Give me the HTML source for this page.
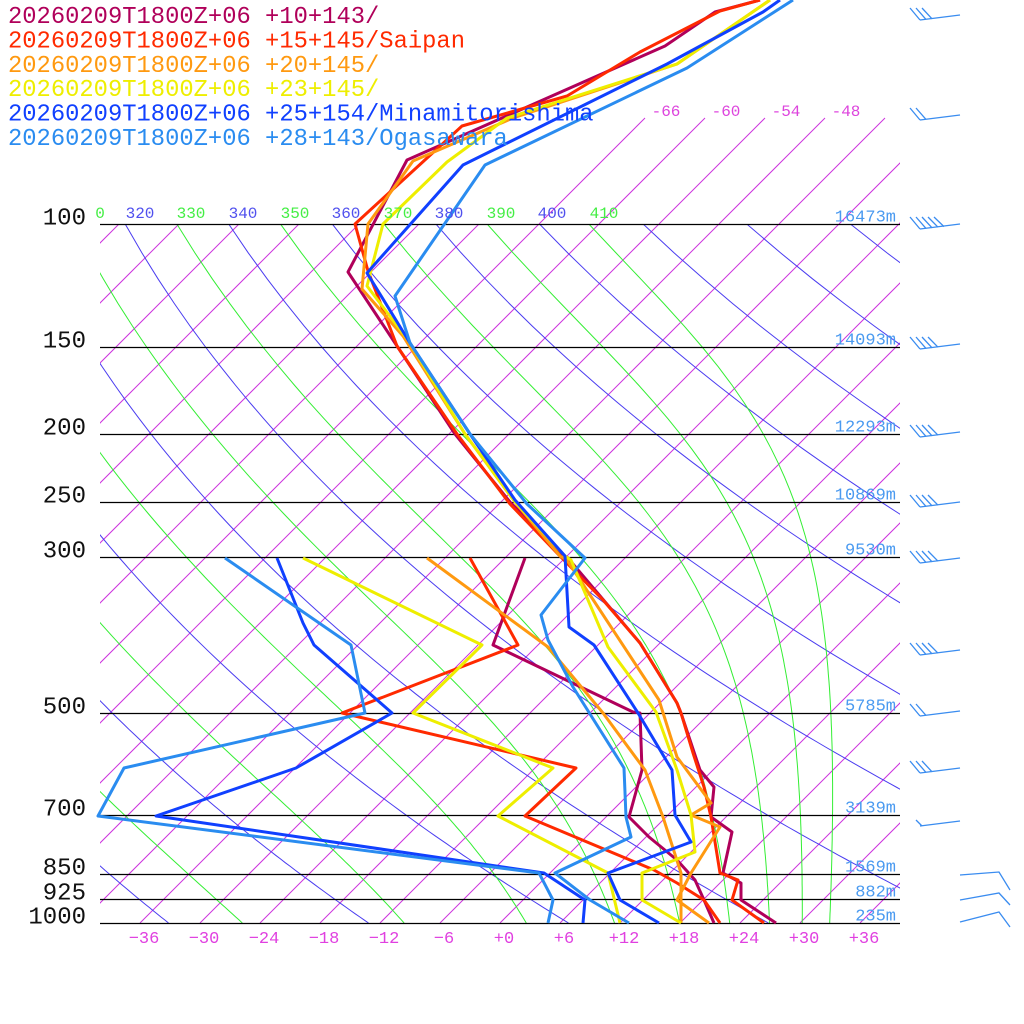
<!DOCTYPE html>
<html><head><meta charset="utf-8"><style>
html,body{margin:0;padding:0;background:#fff;}
svg{display:block;}
text{font-family:"Liberation Mono",monospace;}
</style></head><body>
<svg id="s" width="1024" height="1024" viewBox="0 0 1024 1024" xmlns="http://www.w3.org/2000/svg">
<defs>
<clipPath id="c1"><rect x="100" y="224" width="800" height="699"/></clipPath>
<clipPath id="c2"><rect x="100" y="110" width="800" height="115"/></clipPath>
</defs>
<g id="grid"></g>
<g id="data" fill="none" stroke-width="3" stroke-linejoin="round"></g>
<g id="txt"></g>
</svg>
<script>
var NS="http://www.w3.org/2000/svg";
function el(p,t,a,txt){var e=document.createElementNS(NS,t);for(var k in a)e.setAttribute(k,a[k]);if(txt!==undefined)e.textContent=txt;p.appendChild(e);return e;}
var G=document.getElementById('grid'),D=document.getElementById('data'),T=document.getElementById('txt');
function Y(p){return 923-303.6*Math.log(1000/p);}
function X(t,y){return 500+10*t+(923-y);}
// isotherms
var g1=el(G,'g',{'clip-path':'url(#c1)',stroke:'#cc33dd','stroke-width':'1'});
for(var t=-150;t<=60;t+=6){el(g1,'line',{x1:X(t,923),y1:923,x2:X(t,224),y2:224});}
var g2=el(G,'g',{'clip-path':'url(#c2)',stroke:'#cc33dd','stroke-width':'1'});
for(var t=-66;t<=30;t+=6){el(g2,'line',{x1:X(t,224),y1:224,x2:X(t,118),y2:118});}
var g3=el(G,'g',{'clip-path':'url(#c1)',fill:'none','stroke-width':'1'});
function es(tc){return 6.112*Math.exp(17.67*tc/(tc+243.5));}
function the(tc,p){var tk=tc+273.15;var r=0.622*es(tc)/(p-es(tc));if(r<0||r>1)r=1;return tk*Math.pow(1000/p,0.2857)*Math.exp(2.5e6*r/(1004*tk));}
for(var th=200;th<=460;th+=20){var pts=[];for(var p=100;p<=1000;p+=10){var tc=th*Math.pow(p/1000,0.2857)-273.15;var y=Y(p);pts.push(X(tc,y).toFixed(1)+','+y.toFixed(1));}
el(g3,'polyline',{points:pts.join(' '),stroke:'#4a3cf0'});}
for(var th=190;th<=410;th+=20){var pts=[];for(var p=100;p<=1000;p+=10){var lo=-120,hi=60;for(var i=0;i<50;i++){var m=(lo+hi)/2;if(the(m,p)>th)hi=m;else lo=m;}var y=Y(p);var f=(p-100)/900;pts.push(X(lo-1.3*f,y).toFixed(1)+','+y.toFixed(1));}
el(g3,'polyline',{points:pts.join(' '),stroke:'#33ee33'});}
// isobars
var lev=[[100,'100','16473m'],[150,'150','14093m'],[200,'200','12293m'],[250,'250','10869m'],[300,'300','9530m'],[500,'500','5785m'],[700,'700','3139m'],[850,'850','1569m'],[925,'925','882m'],[1000,'1000','235m']];
lev.forEach(function(l){var y=Math.round(Y(l[0]))+0.5;el(G,'line',{x1:100,y1:y,x2:900,y2:y,stroke:'#000','stroke-width':'1.2'});
el(T,'text',{x:86,y:y,'font-size':'24','text-anchor':'end',fill:'#111'},l[1]);
el(T,'text',{x:896,y:y-3,'font-size':'17','text-anchor':'end',fill:'#4a9af0'},l[2]);});
var tl=[[100,'0','#44ee44'],[140,'320','#5050ee'],[191,'330','#44ee44'],[243,'340','#5050ee'],[295,'350','#44ee44'],[346,'360','#5050ee'],[398,'370','#44ee44'],[449,'380','#5050ee'],[501,'390','#44ee44'],[552,'400','#5050ee'],[604,'410','#44ee44']];
tl.forEach(function(a){el(T,'text',{x:a[0],y:218,'font-size':'16','text-anchor':'middle',fill:a[2]},a[1]);});
[[666,'-66'],[726,'-60'],[786,'-54'],[846,'-48']].forEach(function(a){el(T,'text',{x:a[0],y:116,'font-size':'16','text-anchor':'middle',fill:'#dd44dd'},a[1]);});
for(var t=-36;t<=36;t+=6){var s=t>0?'+'+t:(t==0?'+0':'\u2212'+(-t));el(T,'text',{x:500+10*t+4,y:943,'font-size':'17','text-anchor':'middle',fill:'#e040e0'},s);}
var lg=[['#b0005a','20260209T1800Z+06 +10+143/'],['#ff2a00','20260209T1800Z+06 +15+145/Saipan'],['#ff9910','20260209T1800Z+06 +20+145/'],['#eeee00','20260209T1800Z+06 +23+145/'],['#1040ff','20260209T1800Z+06 +25+154/Minamitorishima'],['#2a8cf0','20260209T1800Z+06 +28+143/Ogasawara']];
lg.forEach(function(a,i){el(T,'text',{x:8,y:23+i*24.4,'font-size':'23.8',fill:a[0]},a[1]);});
var S=[
['#b0005a','760,0 715,12 665,46 407,160 348,272 397,346 455,434 510,502 564,556 567,557 640,643 677,703 681,713 700,770 714,787 711,817 732,832 723,873 741,883 741,900 776,923'],
['#b0005a','525,558 493,645 633,712 640,713 642,770 629,817 649,837 677,860 695,880 704,900 714,923'],
['#ff2a00','760,0 720,11 640,52 567,96 462,126 355,224 368,271 397,346 457,434 510,504 557,553 603,600 640,643 677,703 681,713 693,753 704,787 711,817 720,873 738,880 732,900 764,923'],
['#ff2a00','470,558 518,645 342,713 576,768 525,816 654,870 677,883 704,900 720,923'],
['#ff9910','770,0 677,64 513,118 413,161 368,224 362,289 403,336 465,434 515,502 560,556 567,560 659,700 677,757 711,803 691,815 720,827 691,873 677,900 709,923'],
['#ff9910','427,558 548,647 603,713 645,770 663,817 681,873 681,923'],
['#eeee00','770,0 677,64 507,118 447,162 383,224 367,286 408,340 465,434 515,502 565,556 571,560 608,647 656,712 677,770 691,815 695,852 642,873 642,900 681,923'],
['#eeee00','303,558 482,645 413,713 553,768 498,816 608,873 620,923'],
['#1040ff','780,0 763,12 667,64 463,165 367,273 410,343 470,434 515,500 565,556 569,627 594,645 638,713 672,770 675,815 691,842 608,873 620,900 659,923'],
['#1040ff','277,558 303,623 314,645 392,713 296,768 156,816 544,873 585,900 583,923'],
['#2a8cf0','793,0 687,68 485,165 395,296 410,343 470,434 527,504 585,558 541,615 548,640 573,687 624,768 626,817 631,837 555,873 590,900 629,923'],
['#2a8cf0','225,558 351,645 365,713 124,768 98,816 539,873 553,900 548,923']
];
S.forEach(function(a){el(D,'polyline',{points:a[1],stroke:a[0]});});
var B=[[20,3],[120,2],[229,5],[349,4],[437,4],[507,4],[563,4],[655,4],[716,2],[773,3],[826,1]];
var W=el(G,'g',{stroke:'#3a8cf0','stroke-width':'1.3',fill:'none'});
B.forEach(function(b){var y=b[0];el(W,'line',{x1:920,y1:y,x2:960,y2:y-5});
for(var i=0;i<b[1];i++){var bx=920+6*i;if(b[1]==1){el(W,'line',{x1:922,y1:y,x2:916,y2:y-6});}else el(W,'line',{x1:bx,y1:y-0.6*i,x2:bx-10,y2:y-12});}});
[[875,872,890],[900,893,905],[922,912,927]].forEach(function(a){el(W,'polyline',{points:'960,'+a[0]+' 999,'+a[1]+' 1010,'+a[2]});});
</script>
</body></html>
